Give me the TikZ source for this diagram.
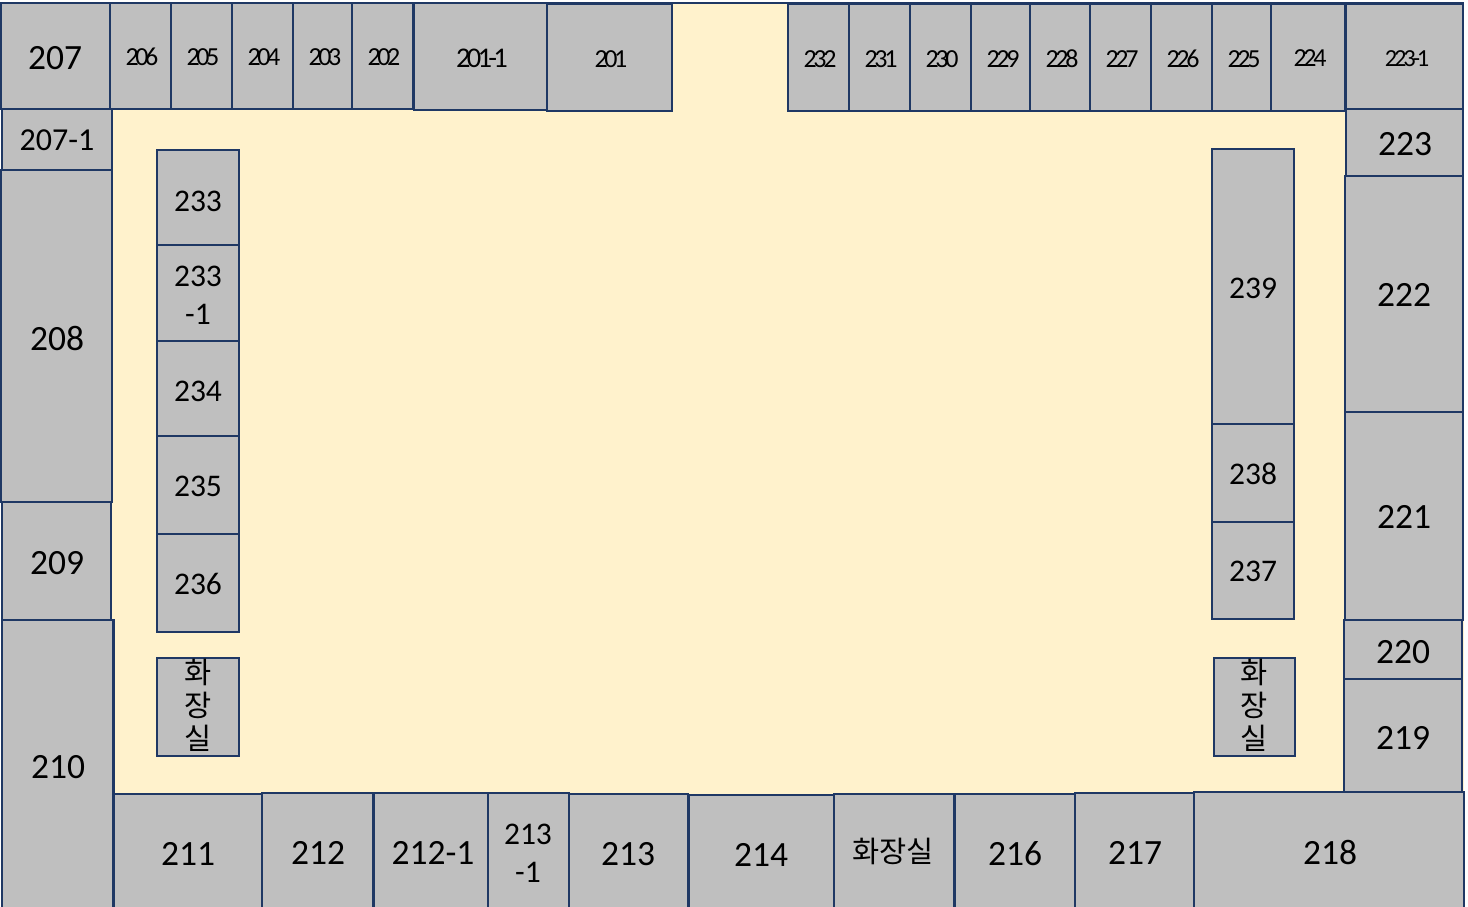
\documentclass[tikz,border=0pt]{standalone}
\usepackage{fontspec}
\setmainfont{Carlito}
\newfontfamily\krfont{Noto Sans CJK KR}
\newfontfamily\tightfont[LetterSpace=-13]{Carlito}
\definecolor{hall}{HTML}{FFF2CC}
\definecolor{booth}{HTML}{BFBFBF}
\definecolor{wall}{HTML}{1F3864}
\tikzset{
  room/.style={draw=wall,fill=booth,line width=2.2pt,inner sep=0pt,outer sep=0pt,anchor=north west},
  big/.style={font=\fontsize{35.5}{38}\selectfont},
  mid/.style={font=\fontsize{31.5}{38}\selectfont,align=center},
  wide/.style={font=\fontsize{32}{38}\selectfont},
  small/.style={font=\tightfont\fontsize{26}{30}\selectfont},
  smallbig/.style={font=\tightfont\fontsize{28.5}{30}\selectfont},
  smalllow/.style={font=\tightfont\fontsize{24.5}{30}\selectfont},
  kr/.style={font=\krfont\fontsize{29.5}{33}\selectfont,align=center},
  lab/.style={inner sep=0pt,text=black}
}
\newcommand{\room}[9]{%
  \pgfmathsetmacro{\rw}{#4-#2}\pgfmathsetmacro{\rh}{#5-#3}%
  \node[room,minimum width=\rw pt,minimum height=\rh pt] (#1) at (#2,#3) {};%
  \node[lab,#8] (#1t) at (#6,#7) {#9};%
}
\begin{document}
\begin{tikzpicture}[x=1pt,y=-1pt]
\useasboundingbox (0,0) rectangle (1468,907);
\clip (0,0) rectangle (1468,907);
\fill[white] (0,0) rectangle (1468,907);
\fill[hall] (1,3) rectangle (1464,907);
\draw[wall,line width=2.2pt] (1,3) -- (1464,3);
% top row, left
\room{r207}{1}{3}{110}{109}{55}{58}{big}{207}
\room{r206}{110}{3}{171}{109}{142}{57}{small}{206}
\room{r205}{171}{3}{232}{109}{203}{57}{small}{205}
\room{r204}{232}{3}{293}{109}{264}{57}{small}{204}
\room{r203}{293}{3}{352}{109}{325}{57}{small}{203}
\room{r202}{352}{3}{413}{109}{384}{57}{small}{202}
\room{r2011}{414}{3}{547}{110}{482}{58}{smallbig}{201-1}
\room{r201}{547}{4}{672}{111}{611}{59}{small}{201}
% top row, right
\room{r232}{788}{4}{849}{111}{820}{59}{small}{232}
\room{r231}{849}{4}{910}{111}{881}{59}{small}{231}
\room{r230}{910}{4}{971}{111}{942}{59}{small}{230}
\room{r229}{971}{4}{1030}{111}{1003}{59}{small}{229}
\room{r228}{1030}{4}{1090}{111}{1062}{59}{small}{228}
\room{r227}{1090}{4}{1151}{111}{1122}{59}{small}{227}
\room{r226}{1151}{4}{1212}{111}{1183}{59}{small}{226}
\room{r225}{1212}{4}{1271}{111}{1244}{59}{small}{225}
\room{r224}{1271}{4}{1345}{111}{1310}{58}{small}{224}
\room{r2231}{1346}{4}{1463}{109}{1407}{59}{smalllow}{223-1}
% left column
\room{r2071}{2}{109}{112}{170}{57}{140}{wide}{207-1}
\room{r208}{1}{170}{112}{502}{57}{339}{big}{208}
\room{r209}{2}{502}{111}{620}{57}{563}{big}{209}
\room{r210}{2}{620}{113.5}{910}{58}{767}{big}{210}
% bottom row
\room{r211}{114}{794}{262}{910}{188}{854}{big}{211}
\room{r212}{262}{793}{373}{910}{318}{853}{big}{212}
\room{r2121}{373.5}{793}{488}{910}{433}{853}{big}{212-1}
\room{r2131}{488}{793}{569}{910}{528}{853}{mid}{213\\-1}
\room{r213}{569}{794}{688}{910}{628}{854}{big}{213}
\room{r214}{689}{795}{834}{910}{761}{855}{big}{214}
\room{r215}{834}{794}{954.5}{910}{893}{851.5}{kr}{화장실}
\room{r216}{954.5}{794}{1075}{910}{1015}{854}{big}{216}
\room{r217}{1075}{793}{1194}{910}{1135}{853}{big}{217}
\room{r218}{1194}{792}{1464}{910}{1330}{852}{big}{218}
% right column
\room{r223}{1346}{109}{1463}{176}{1405}{144.5}{big}{223}
\room{r222}{1345}{176}{1463}{412}{1404}{295}{big}{222}
\room{r221}{1345}{412}{1463}{620}{1404}{517}{big}{221}
\room{r220}{1344}{620}{1462}{679}{1403}{652.5}{big}{220}
\room{r219}{1344}{679}{1462}{792}{1403}{738}{big}{219}
% inner left
\room{r233}{157}{150}{239}{245}{198}{201}{mid}{233}
\room{r2331}{157}{245}{239}{341}{198}{295}{mid}{233\\-1}
\room{r234}{157}{341}{239}{436}{198}{391}{mid}{234}
\room{r235}{157}{436}{239}{534}{198}{486}{mid}{235}
\room{r236}{157}{534}{239}{632}{198}{584}{mid}{236}
\room{wcl}{157}{658}{239}{756}{198.5}{705.5}{kr}{화\\장\\실}
% inner right
\room{r239}{1212}{149}{1294}{424}{1253}{288}{mid}{239}
\room{r238}{1212}{424}{1294}{522}{1253}{474}{mid}{238}
\room{r237}{1212}{522}{1294}{619}{1253}{571}{mid}{237}
\room{wcr}{1214}{658}{1295}{756}{1254.5}{705.5}{kr}{화\\장\\실}
\end{tikzpicture}
\end{document}
